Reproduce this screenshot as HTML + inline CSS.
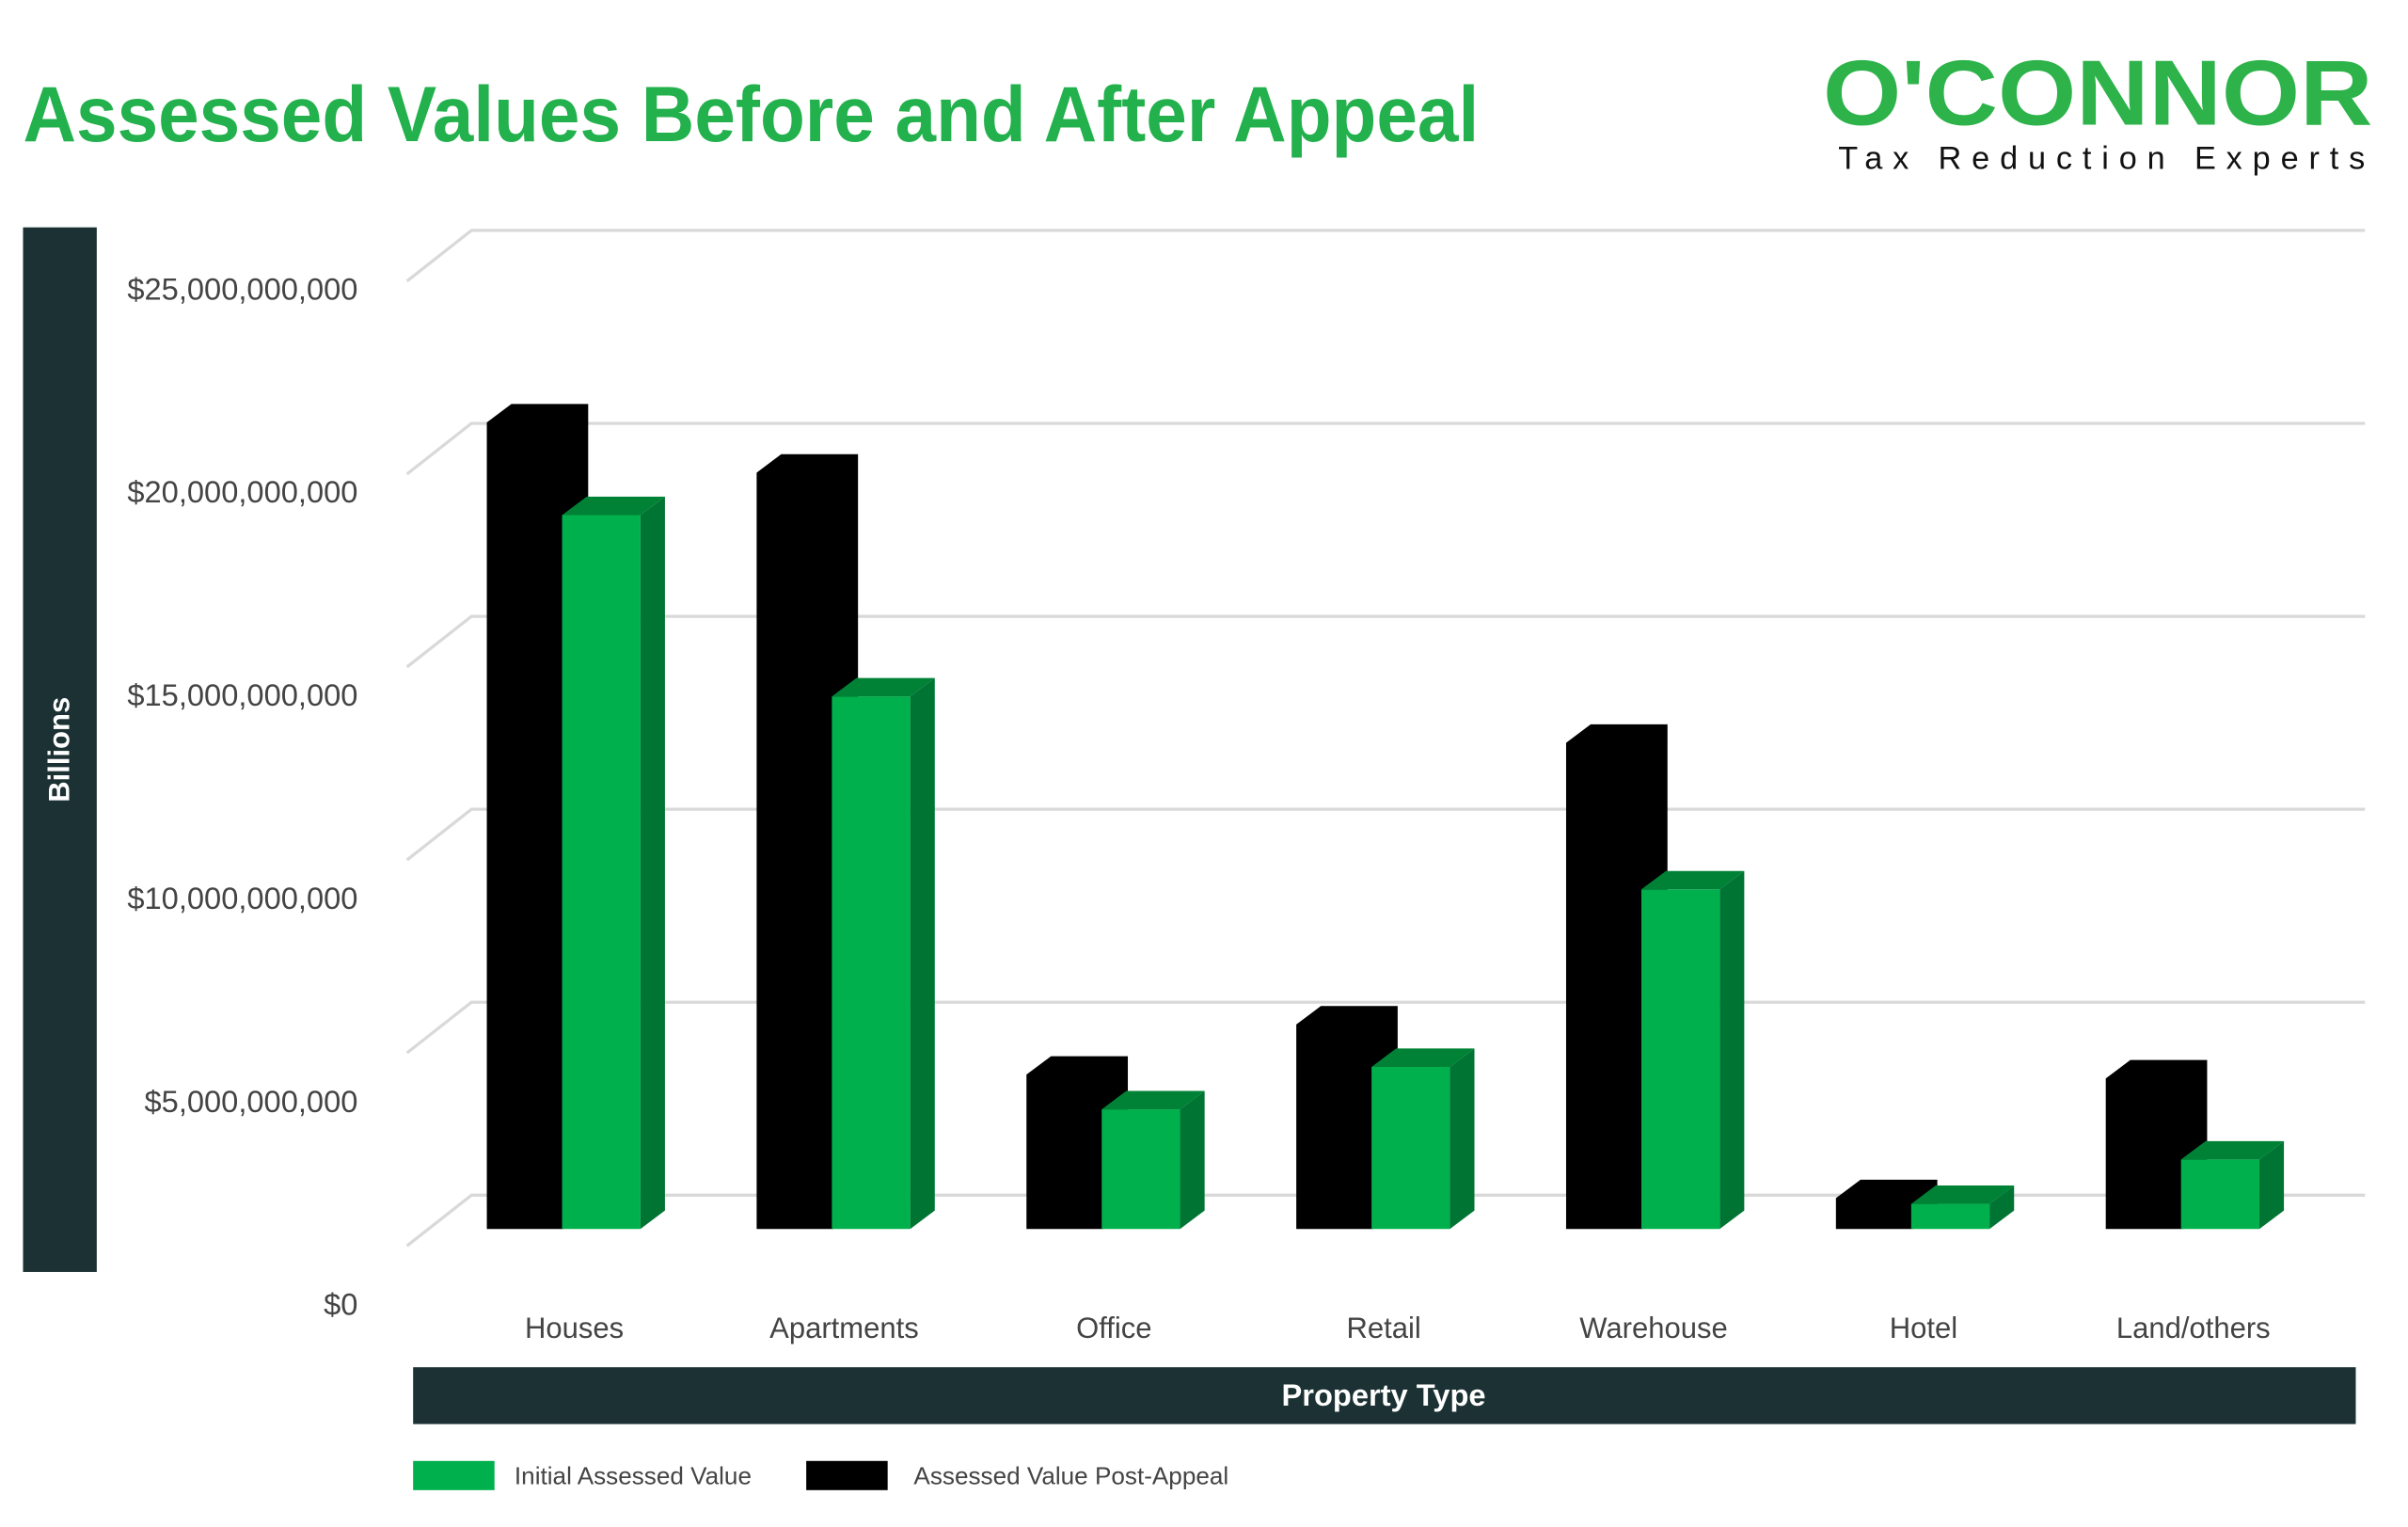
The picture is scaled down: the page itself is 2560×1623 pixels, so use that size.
<!DOCTYPE html>
<html><head><meta charset="utf-8"><style>
html,body{margin:0;padding:0;background:#fff;}
svg{display:block;}
text{font-family:"Liberation Sans",Arial,sans-serif;}
</style></head><body>
<svg id="chart" width="2560" height="1623" viewBox="0 0 1568 994" preserveAspectRatio="none" xmlns="http://www.w3.org/2000/svg">
<text x="15" y="92" font-size="51" font-weight="bold" fill="#22b14c" textLength="948" lengthAdjust="spacingAndGlyphs">Assessed Values Before and After Appeal</text>
<g>
<text x="1187" y="81" font-size="60" font-weight="bold" fill="#2db34a" textLength="358" lengthAdjust="spacingAndGlyphs">O'CONNOR</text>
<text x="1197" y="110" font-size="21" fill="#111" textLength="343" lengthAdjust="spacing">Tax Reduction Experts</text>
</g>
<rect x="15" y="148" width="48" height="680" fill="#1c3133"/>
<text transform="translate(45,488) rotate(-90)" text-anchor="middle" font-size="19" font-weight="bold" fill="#fff">Billions</text>
<g id="grid"></g>
<g id="yticks"></g>
<g id="bars"></g>
<g id="xlabels"></g>
<rect x="269" y="890" width="1265" height="37" fill="#1c3133"/>
<text x="901" y="915" text-anchor="middle" font-size="20" font-weight="bold" fill="#fff">Property Type</text>
<g>
<rect x="269" y="951" width="53" height="19" fill="#00b04c"/>
<text x="335" y="966" font-size="16" fill="#444">Initial Assessed Value</text>
<rect x="525" y="951" width="53" height="19" fill="#000"/>
<text x="595" y="966" font-size="16" fill="#444">Assessed Value Post-Appeal</text>
</g>
</svg>
<script>
const categories=["Houses","Apartments","Office","Retail","Warehouse","Hotel","Land/others"];
const postAppeal=[20.9,19.6,4.0,5.3,12.6,0.8,3.9];
const initialValue=[18.5,13.8,3.1,4.2,8.8,0.65,1.8];
const tickValues=[0,5,10,15,20,25];
const tickLabels=["$0","$5,000,000,000","$10,000,000,000","$15,000,000,000","$20,000,000,000","$25,000,000,000"];

const NS="http://www.w3.org/2000/svg";
function mk(tag,attrs,parent){const e=document.createElementNS(NS,tag);for(const k in attrs)e.setAttribute(k,attrs[k]);parent.appendChild(e);return e;}
const backY=v=>778-v*25.12;
const frontY=v=>800-v*25.12;
const tickY=v=>849-v*26.44;
const groupX=i=>317+i*175.7;

const grid=document.getElementById('grid');
tickValues.forEach(v=>{
  const y=backY(v);
  const p=mk('polyline',{points:`265,${y+33} 307,${y} 1540,${y}`,fill:'none',stroke:'#d9d9d9','stroke-width':2},grid);
  
  
});
const yt=document.getElementById('yticks');
tickValues.forEach((v,i)=>{
  const t=mk('text',{x:233,y:tickY(v)+7,'text-anchor':'end','font-size':20,fill:'#444'},yt);
  t.textContent=tickLabels[i];
  
  
});
const bars=document.getElementById('bars');
const dx=16,dy=12,bottom=800;
categories.forEach((c,i)=>{
  const x0=groupX(i);
  const yb=frontY(postAppeal[i]);
  const w=50;
  const b=mk('path',{d:`M${x0},${bottom} L${x0},${yb} L${x0+dx},${yb-dy} L${x0+w+dx},${yb-dy} L${x0+w+dx},${bottom-dy} L${x0+w},${bottom} Z`,fill:'#000'},bars);
  
  
  const gx=x0+49,gw=51,yg=frontY(initialValue[i]);
  const g=mk('g',{},bars);
  
  
  mk('rect',{x:gx,y:yg,width:gw,height:bottom-yg,fill:'#00b04c'},g);
  mk('path',{d:`M${gx},${yg} L${gx+dx},${yg-dy} L${gx+gw+dx},${yg-dy} L${gx+gw},${yg} Z`,fill:'#008236'},g);
  mk('path',{d:`M${gx+gw},${yg} L${gx+gw+dx},${yg-dy} L${gx+gw+dx},${bottom-dy} L${gx+gw},${bottom} Z`,fill:'#007533'},g);
});
const xl=document.getElementById('xlabels');
categories.forEach((c,i)=>{
  const t=mk('text',{x:groupX(i)+57,y:871,'text-anchor':'middle','font-size':19,fill:'#444'},xl);
  t.textContent=c;
  
  
});
</script>
</body></html>
